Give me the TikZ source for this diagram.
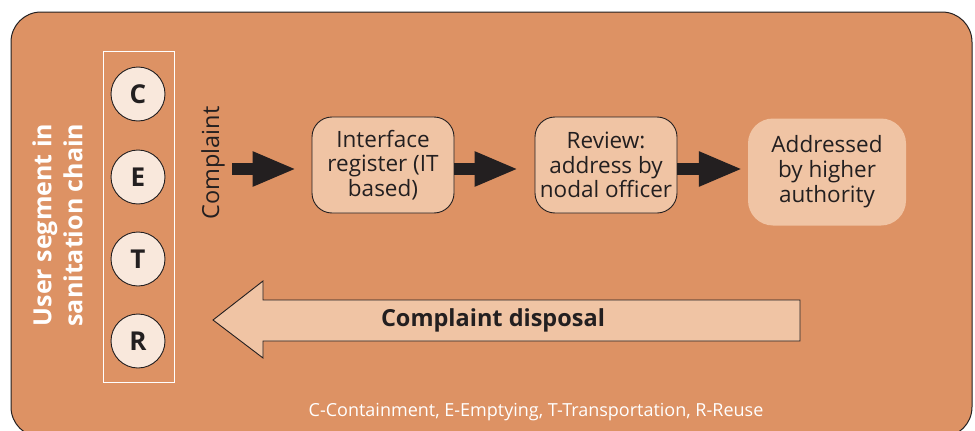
\documentclass[tikz,border=0pt]{standalone}
\usepackage{fontspec}
\setmainfont{Open Sans}
\usetikzlibrary{arrows.meta}
\definecolor{bgor}{HTML}{DD9264}
\definecolor{nodefill}{HTML}{F0C4A4}
\definecolor{circfill}{HTML}{F9E8DC}
\definecolor{ink}{HTML}{231F20}
\tikzset{
  x=1pt, y=-1pt,
  procbox/.style={draw=ink, line width=0.9pt, fill=nodefill, rounded corners=20pt,
    minimum width=142pt, minimum height=96pt, align=center, inner sep=0pt,
    text=ink, font=\fontsize{22.5}{24.5}\selectfont},
  finalbox/.style={fill=nodefill, rounded corners=25pt,
    minimum width=158pt, minimum height=107pt, align=center, inner sep=0pt,
    text=ink, font=\fontsize{22.5}{25}\selectfont},
  segcirc/.style={circle, draw=ink, line width=0.9pt, fill=circfill, minimum size=54pt,
    inner sep=0pt, text=ink, font=\fontsize{26}{26}\selectfont\bfseries},
  blackarrow/.style={draw=ink, line width=12pt, -{Triangle[length=44pt,width=32pt]}},
}
\begin{document}
\begin{tikzpicture}
\useasboundingbox (0,0) rectangle (975,431);
\clip (0,0) rectangle (975,431);
\draw[ink, line width=1pt, fill=bgor, rounded corners=30pt] (11,12) rectangle (972,437);
\draw[white, line width=1pt] (103,51) rectangle (174,382);
\node[segcirc] (c) at (138,94) {C};
\node[segcirc] (e) at (138,177) {E};
\node[segcirc] (t) at (138,259) {T};
\node[segcirc] (r) at (138,341) {R};
\node[rotate=90, align=center, text=white, font=\fontsize{25}{31}\selectfont\bfseries] (seg) at (57.5,225) {User segment in\\sanitation chain};
\node[rotate=90, text=ink, font=\fontsize{23.5}{24}\selectfont] (compl) at (213,163) {Complaint};
\node[procbox] (reg) at (383,165) {Interface\\register (IT\\based)};
\node[procbox] (rev) at (606,165) {Review:\\address by\\nodal officer};
\node[finalbox] (auth) at (827,172) {Addressed\\by higher\\authority};
\coordinate (a1s) at (232,169);
\draw[blackarrow] (a1s) -- ([xshift=-15pt]reg.west |- 0,169);
\draw[blackarrow] (reg.east |- 0,169) -- ([xshift=-16pt]rev.west |- 0,169);
\draw[blackarrow] (rev.east |- 0,169) -- ([xshift=-5pt]auth.west |- 0,169);
\draw[ink, line width=0.9pt, fill=nodefill] (800,300) -- (263,300) -- (263,281) -- (213,320) -- (263,358) -- (263,341) -- (800,341) -- cycle;
\node[text=ink, font=\fontsize{23.5}{24}\selectfont\bfseries] (disp) at (493,320) {Complaint disposal};
\node[text=white, font=\fontsize{18}{18}\selectfont] (legend) at (536,412) {C-Containment, E-Emptying, T-Transportation, R-Reuse};
\end{tikzpicture}
\end{document}
